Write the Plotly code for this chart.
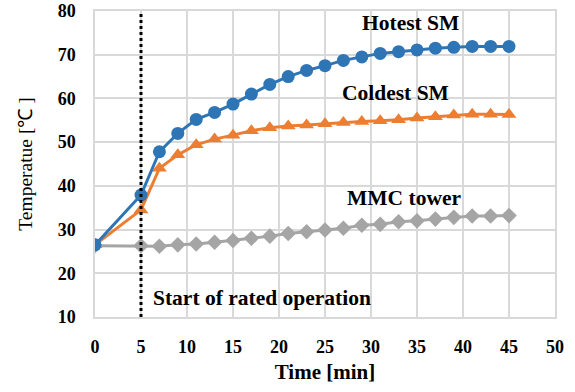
import plotly.graph_objects as go

time_min = [0, 5, 7, 9, 11, 13, 15, 17, 19, 21, 23, 25, 27, 29, 31, 33, 35, 37, 39, 41, 43, 45]
hotest_sm = [26.5, 37.9, 47.8, 52.0, 55.2, 56.8, 58.7, 61.0, 63.2, 65.0, 66.4, 67.5, 68.7, 69.5,
             70.3, 70.7, 71.1, 71.5, 71.7, 71.9, 71.9, 71.9]
coldest_sm = [26.5, 34.5, 44.0, 47.1, 49.4, 50.7, 51.6, 52.6, 53.3, 53.7, 53.9, 54.2, 54.5, 54.7,
              54.9, 55.1, 55.5, 55.8, 56.2, 56.4, 56.4, 56.3]
mmc_tower = [26.3, 26.3, 26.2, 26.5, 26.7, 27.1, 27.5, 28.0, 28.5, 29.1, 29.5, 29.9, 30.3, 31.0,
             31.2, 31.8, 32.0, 32.4, 32.8, 33.1, 33.1, 33.2]
x_ticks = [0, 5, 10, 15, 20, 25, 30, 35, 40, 45, 50]
y_ticks = [10, 20, 30, 40, 50, 60, 70, 80]
start_time = 5

FONT = "Liberation Serif"
fig = go.Figure()
fig.add_trace(go.Scatter(x=time_min, y=mmc_tower, mode="lines+markers",
                         line=dict(color="#A5A5A5", width=3),
                         marker=dict(symbol="diamond", size=12, color="#A5A5A5"), name="MMC tower"))
fig.add_trace(go.Scatter(x=time_min, y=coldest_sm, mode="lines+markers",
                         line=dict(color="#ED7D31", width=3),
                         marker=dict(symbol="triangle-up", size=13, color="#ED7D31"), name="Coldest SM"))
fig.add_trace(go.Scatter(x=time_min, y=hotest_sm, mode="lines+markers",
                         line=dict(color="#2E75B6", width=3),
                         marker=dict(symbol="circle", size=13, color="#2E75B6"), name="Hotest SM"))

fig.add_shape(type="line", x0=start_time, x1=start_time, y0=10, y1=80, xref="x", yref="y",
              line=dict(color="black", width=3, dash="dot"))

ann_font = dict(family=FONT, size=21.5, color="black")
fig.add_annotation(x=34.3, y=77.3, text="<b>Hotest SM</b>", showarrow=False, font=ann_font)
fig.add_annotation(x=32.7, y=61.3, text="<b>Coldest SM</b>", showarrow=False, font=ann_font)
fig.add_annotation(x=33.6, y=37.2, text="<b>MMC tower</b>", showarrow=False, font=ann_font)
fig.add_annotation(x=6.1, y=14.3, text="<b>Start of rated operation</b>", showarrow=False,
                   xanchor="left", font=ann_font)

fig.update_xaxes(range=[0, 50], tickvals=x_ticks, ticktext=[f"<b>{v}</b>" for v in x_ticks],
                 showgrid=True, gridcolor="#D9D9D9", gridwidth=1.5, zeroline=False,
                 showline=True, linecolor="#D9D9D9", linewidth=1.5, mirror=True,
                 tickfont=dict(family=FONT, size=18, color="black"),
                 ticks="outside", ticklen=13, tickcolor="rgba(0,0,0,0)", automargin=False,
                 title=dict(text="<b>Time [min]</b>", font=dict(family=FONT, size=21, color="black"),
                            standoff=8))
fig.update_yaxes(range=[10, 80], tickvals=y_ticks, ticktext=[f"<b>{v}</b>" for v in y_ticks],
                 showgrid=True, gridcolor="#D9D9D9", gridwidth=1.5, zeroline=False,
                 showline=True, linecolor="#D9D9D9", linewidth=1.5, mirror=True,
                 tickfont=dict(family=FONT, size=18, color="black"),
                 ticks="outside", ticklen=14, tickcolor="rgba(0,0,0,0)", automargin=False,
                 title=dict(text="Temperatue [℃ ]", font=dict(family=FONT, size=19.5, color="black"),
                            standoff=20))
fig.update_layout(width=575, height=392, margin=dict(l=95, r=20, t=11, b=75, autoexpand=False),
                  paper_bgcolor="white", plot_bgcolor="white", showlegend=False)
fig.write_html("out.html")
